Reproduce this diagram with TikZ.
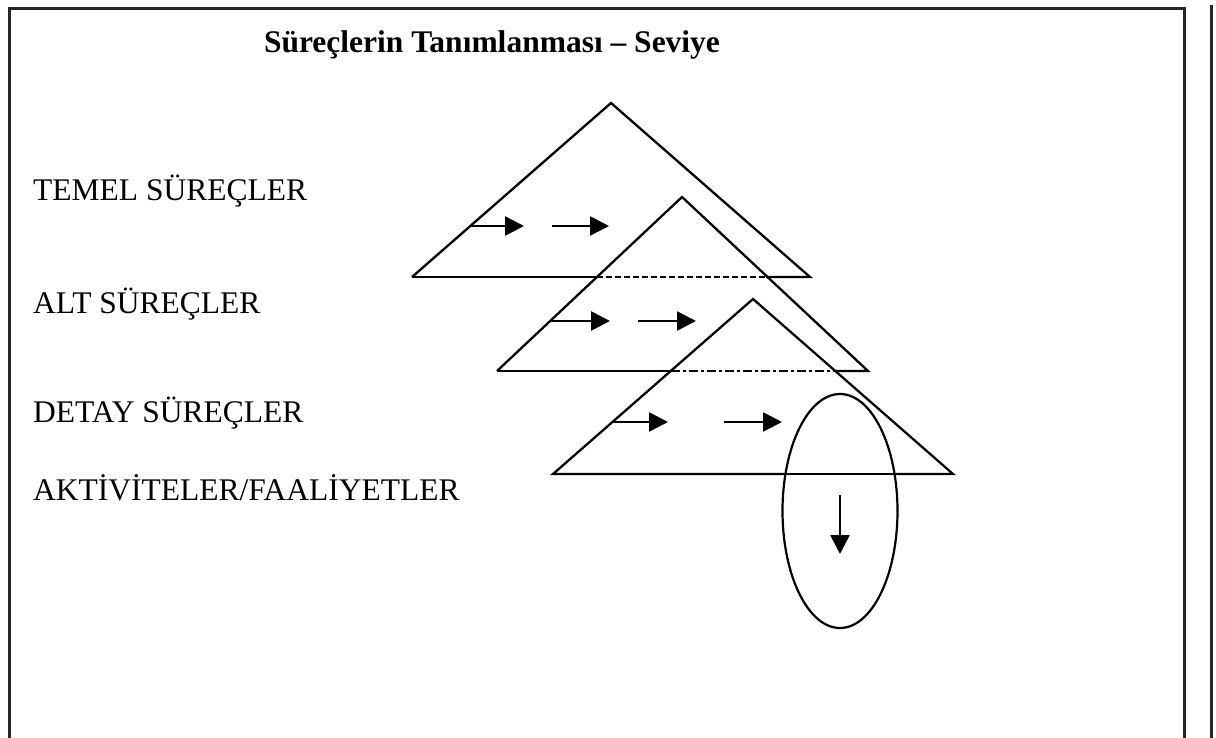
\documentclass[tikz,border=0pt]{standalone}
\usepackage{fontspec}
\setmainfont{Liberation Serif}
\usetikzlibrary{arrows.meta,shapes.geometric}
\begin{document}
\begin{tikzpicture}[x=1pt,y=-1pt,
  tri/.style={line width=2.3pt,line join=miter},
  flow/.style={line width=2.6pt,-{Triangle[length=19pt,width=19pt]}},
  lbl/.style={anchor=base west,inner sep=0pt,font=\fontsize{31.5}{36}\selectfont},
  frame/.style={line width=3pt,draw=black!85}]
\useasboundingbox (0,0) rectangle (1216,737);
% frame
\coordinate (f1) at (9,738);
\coordinate (f2) at (9,8);
\coordinate (f3) at (1184,8);
\coordinate (f4) at (1184,738);
\draw[frame] (f1) -- (f2) -- (f3) -- (f4);
\coordinate (g1) at (1211,5);
\coordinate (g2) at (1211,738);
\draw[frame] (g1) -- (g2);
% title
\node[anchor=base,inner sep=0pt,font=\fontsize{31.5}{36}\selectfont\bfseries] (title) at (492,52) {Süreçlerin Tanımlanması – Seviye};
% labels
\node[lbl] (l1) at (33,200) {TEMEL SÜREÇLER};
\node[lbl] (l2) at (33,313) {ALT SÜREÇLER};
\node[lbl] (l3) at (33,422) {DETAY SÜREÇLER};
\node[lbl] (l4) at (33,500) {AKTİVİTELER/FAALİYETLER};
% triangle 1
\coordinate (a1) at (611,103);
\coordinate (b1l) at (412,277);
\coordinate (b1r) at (810,277);
\coordinate (d1l) at (597,277);
\coordinate (d1r) at (766,277);
\draw[tri] (b1l) -- (a1) -- (b1r) -- (d1r);
\draw[tri] (d1l) -- (b1l);
\draw[line width=1.4pt,dash pattern=on 6pt off 3pt] (d1l) -- (d1r);
% triangle 2
\coordinate (a2) at (682,197);
\coordinate (b2l) at (497,371);
\coordinate (b2r) at (868,371);
\coordinate (d2l) at (671,371);
\coordinate (d2r) at (835,371);
\draw[tri] (b2l) -- (a2) -- (b2r) -- (d2r);
\draw[tri] (d2l) -- (b2l);
\draw[line width=1.4pt,dash pattern=on 9pt off 3pt on 3pt off 3pt] (d2l) -- (d2r);
% triangle 3
\coordinate (a3) at (753,299);
\coordinate (b3l) at (553,474);
\coordinate (b3r) at (953,474);
\coordinate (e3l) at (784,474);
\coordinate (e3r) at (896,474);
\draw[tri] (e3l) -- (b3l) -- (a3) -- (b3r) -- (e3r);
\draw[line width=1.4pt] (e3l) -- (e3r);
% ellipse
\node[draw,ellipse,line width=2.2pt,minimum width=115pt,minimum height=234pt,inner sep=0pt] (ell) at (840,511) {};
% arrows
\coordinate (p11) at (469,226); \coordinate (q11) at (524,226);
\coordinate (p12) at (552,226); \coordinate (q12) at (609,226);
\coordinate (p21) at (551,321); \coordinate (q21) at (610,321);
\coordinate (p22) at (638,321); \coordinate (q22) at (696,321);
\coordinate (p31) at (612,422); \coordinate (q31) at (668,422);
\coordinate (p32) at (724,422); \coordinate (q32) at (782,422);
\coordinate (pd) at (840,495); \coordinate (qd) at (840,554);
\draw[flow] (p11) -- (q11);
\draw[flow] (p12) -- (q12);
\draw[flow] (p21) -- (q21);
\draw[flow] (p22) -- (q22);
\draw[flow] (p31) -- (q31);
\draw[flow] (p32) -- (q32);
\draw[flow] (pd) -- (qd);
\end{tikzpicture}
\end{document}
